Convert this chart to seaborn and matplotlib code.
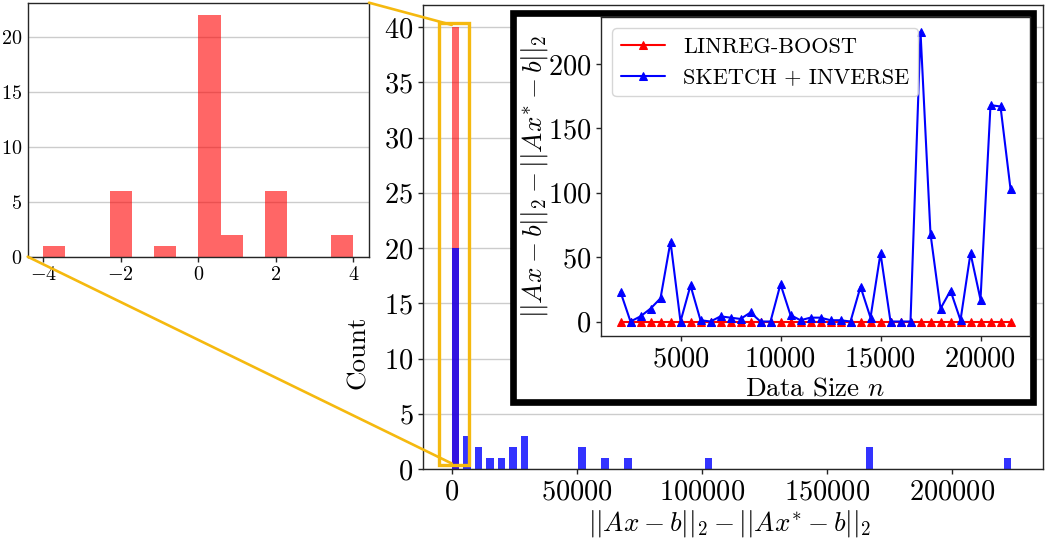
import numpy as np
import matplotlib
matplotlib.use("Agg")
import matplotlib.pyplot as plt
import seaborn as sns
from matplotlib.patches import Rectangle, ConnectionPatch

# ---------------- data ----------------
data_size = [2000, 2500, 3000, 3500, 4000, 4500, 5000, 5500, 6000, 6500,
             7000, 7500, 8000, 8500, 9000, 9500, 10000, 10500, 11000, 11500,
             12000, 12500, 13000, 13500, 14000, 14500, 15000, 15500, 16000, 16500,
             17000, 17500, 18000, 18500, 19000, 19500, 20000, 20500, 21000, 21500]
linreg_boost = [0, 0, 0, 0, 0, 0, 0, 0, 0, 0,
                0, 0, 0, 0, 0, 0, 0, 0, 0, 0,
                0, 0, 0, 0, 0, 0, 0, 0, 0, 0,
                0, 0, 0, 0, 0, 0, 0, 0, 0, 0]
sketch_inverse = [23, 0, 4, 10, 18, 62, 0, 28, 1, 0,
                  4, 3, 2, 7, 0, 0, 29, 5, 1, 3,
                  3, 1, 1, 0, 27, 3, 53, 0, 0, 0,
                  225, 68, 10, 24, 1, 53, 17, 168, 167, 103]

# main histogram (49 bins over the difference range)
hist_range = (0, 225400)
hist_nbins = 49
hist_sketch_counts = [20, 3, 2, 1, 1, 2, 3, 0, 0, 0,
                      0, 2, 0, 1, 0, 1, 0, 0, 0, 0,
                      0, 0, 1, 0, 0, 0, 0, 0, 0, 0,
                      0, 0, 0, 0, 0, 0, 2, 0, 0, 0,
                      0, 0, 0, 0, 0, 0, 0, 0, 1]
hist_linreg_counts = [40] + [0] * 48

# zoomed histogram of LINREG-BOOST
zoom_range = (-4, 4)
zoom_nbins = 14
zoom_linreg_counts = [1, 0, 0, 6, 0, 1, 0, 22, 2, 0, 6, 0, 0, 2]

xlabel_txt = r'$||Ax-b||_2-||Ax^{*}-b||_2$'

# ---------------- style ----------------
sns.set_theme(style="whitegrid")
plt.rcParams.update({
    'font.family': 'serif',
    'font.serif': ['cmr10'],
    'mathtext.fontset': 'cm',
    'axes.formatter.use_mathtext': True,
    'axes.edgecolor': '0.15',
    'axes.linewidth': 1.0,
    'xtick.bottom': True, 'ytick.left': True,
    'xtick.major.size': 3.5, 'ytick.major.size': 3.5,
    'xtick.major.width': 1.0, 'ytick.major.width': 1.0,
    'xtick.color': '0.15', 'ytick.color': '0.15',
    'xtick.labelcolor': 'black', 'ytick.labelcolor': 'black',
    'text.color': 'black', 'axes.labelcolor': 'black',
    'grid.color': '0.8', 'grid.linewidth': 1.0,
})

W, H = 1049, 541
fig = plt.figure(figsize=(W / 100, H / 100), dpi=100)
TICK = 20.5
LABEL = 19.5

# ---------------- main histogram ----------------
ax = fig.add_axes([423 / W, 1 - 469 / H, 620 / W, 464 / H], zorder=0)
edges = np.linspace(hist_range[0], hist_range[1], hist_nbins + 1)
centers = (edges[:-1] + edges[1:]) / 2
binw = edges[1] - edges[0]
shrink = 0.64
sns.histplot(x=centers, weights=hist_linreg_counts, bins=list(edges), color='red',
             alpha=0.6, linewidth=0, shrink=shrink, ax=ax)
sns.histplot(x=centers, weights=hist_sketch_counts, bins=list(edges), color='blue',
             alpha=0.8, linewidth=0, shrink=shrink, ax=ax)
for p in ax.patches:
    p.set_x(p.get_x() - (1 - shrink) / 2 * binw)
ax.set_xlim(-11480, 236500)
ax.set_xticks([0, 50000, 100000, 150000, 200000])
ax.set_yticks(range(0, 41, 5))
ax.xaxis.grid(False)
ax.tick_params(labelsize=TICK)
ax.set_xlabel(xlabel_txt, fontsize=LABEL)
ax.set_ylabel('Count', fontsize=LABEL)
ax.xaxis.set_label_coords(0.495, -0.084)
ax.yaxis.set_label_coords(-0.0855, 0.252)
for s in ax.spines.values():
    s.set_visible(True)

yellow = '#F5B90F'
ax.add_patch(Rectangle((-5000, 0.4), 12000, 40.0, fill=False, edgecolor=yellow,
                       linewidth=2.4, zorder=5, clip_on=False))

# ---------------- zoomed histogram (left) ----------------
axz = fig.add_axes([27.7 / W, 1 - 256.7 / H, 341.3 / W, 254 / H], zorder=0)
zedges = np.linspace(zoom_range[0], zoom_range[1], zoom_nbins + 1)
zcenters = (zedges[:-1] + zedges[1:]) / 2
sns.histplot(x=zcenters, weights=zoom_linreg_counts, bins=list(zedges), color='red',
             alpha=0.6, linewidth=0, ax=axz)
axz.set_xticks([-4, -2, 0, 2, 4])
axz.set_yticks([0, 5, 10, 15, 20])
axz.xaxis.grid(False)
axz.set_xlabel('')
axz.set_ylabel('')
axz.tick_params(labelsize=14.5)
axz.tick_params(axis='y', length=0, pad=4)

# ---------------- framed line-chart inset ----------------
frame = Rectangle((513 / W, 1 - 401.7 / H), (1032.5 - 513) / W, (401.7 - 13.3) / H,
                  transform=fig.transFigure, facecolor='white', edgecolor='black',
                  linewidth=4.8, zorder=2)
fig.add_artist(frame)

axl = fig.add_axes([601 / W, 1 - 336 / H, 429 / W, (336 - 17.3) / H], zorder=3)
axl.set_facecolor('white')
sns.lineplot(x=data_size, y=linreg_boost, color='red', marker='^', markersize=6,
             markeredgecolor='red', linewidth=1.5, label='LINREG-BOOST', ax=axl)
sns.lineplot(x=data_size, y=sketch_inverse, color='blue', marker='^', markersize=6,
             markeredgecolor='blue', linewidth=1.5, label='SKETCH + INVERSE', ax=axl)
axl.grid(False)
axl.set_xticks([5000, 10000, 15000, 20000])
axl.set_yticks([0, 50, 100, 150, 200])
axl.tick_params(labelsize=TICK)
axl.set_xlabel(r'Data Size $n$', fontsize=LABEL)
axl.set_ylabel(xlabel_txt, fontsize=LABEL)
axl.xaxis.set_label_coords(0.5, -0.129)
axl.yaxis.set_label_coords(-0.119, 0.5)
axl.legend(loc='upper left', fontsize=16, frameon=True)

# ---------------- connectors ----------------
for xyA, xyB in [((1, 1), (0, 40.2)), ((0, 0), (0, 0.5))]:
    con = ConnectionPatch(xyA=xyA, coordsA='axes fraction', axesA=axz,
                          xyB=xyB, coordsB='data', axesB=ax,
                          color=yellow, linewidth=1.9, zorder=4)
    fig.add_artist(con)

fig.savefig('out.png', dpi=100)
